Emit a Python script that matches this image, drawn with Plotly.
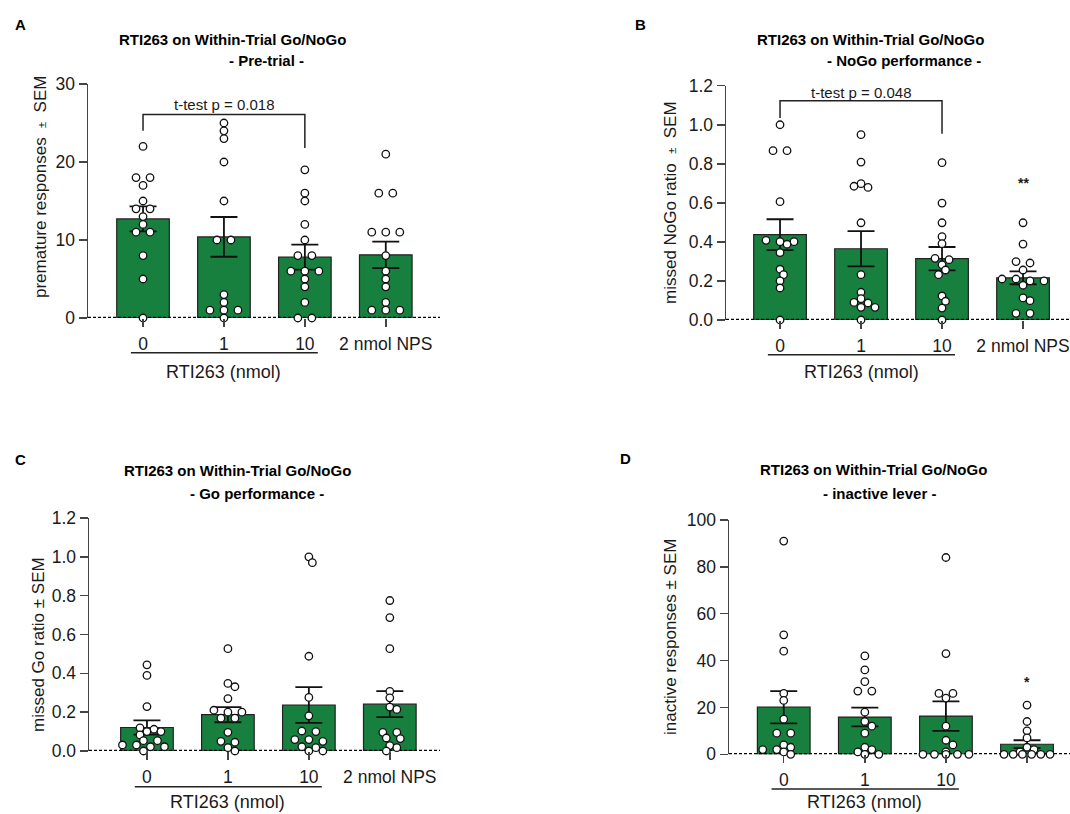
import math
import plotly.graph_objects as go

W, H = 1070, 814
FONT = "Liberation Sans, Arial, sans-serif"
GREEN = "#17803f"
INK = "#1a1a1a"

categories = ["0", "1", "10", "2 nmol NPS"]

# ---- Panel A: premature responses (pre-trial) ----
a_0 = [22, 18, 18, 17, 15, 14, 14, 13, 12, 11, 11, 8, 5, 0]
a_1 = [25, 24, 23, 20, 15, 10, 10, 3, 2, 1, 1, 1, 0]
a_10 = [19, 16, 15, 12, 10, 8, 8, 6, 6, 6, 5, 4, 2, 0, 0]
a_nps = [21, 16, 16, 11, 11, 11, 8, 6, 5, 4, 2, 1, 1, 1]
a_mean = [12.7, 10.4, 7.8, 8.1]
a_sem = [1.6, 2.55, 1.6, 1.7]

# ---- Panel B: missed NoGo ratio ----
b_0 = [1.0, 0.867, 0.867, 0.606, 0.408, 0.401, 0.401, 0.388, 0.345, 0.26, 0.232, 0.2, 0.164, 0.0]
b_1 = [0.949, 0.809, 0.698, 0.685, 0.679, 0.498, 0.232, 0.142, 0.109, 0.09, 0.087, 0.065, 0.065, 0.0]
b_10 = [0.806, 0.599, 0.498, 0.427, 0.391, 0.316, 0.309, 0.283, 0.256, 0.232, 0.123, 0.096, 0.061, 0.0]
b_nps = [0.498, 0.389, 0.299, 0.292, 0.256, 0.21, 0.21, 0.2, 0.2, 0.178, 0.113, 0.099, 0.034, 0.034]
b_mean = [0.437, 0.365, 0.314, 0.216]
b_sem = [0.079, 0.09, 0.06, 0.033]

# ---- Panel C: missed Go ratio ----
c_0 = [0.444, 0.389, 0.229, 0.119, 0.112, 0.1, 0.1, 0.083, 0.053, 0.053, 0.031, 0.031, 0.022, 0.022, 0.0]
c_1 = [0.527, 0.348, 0.331, 0.27, 0.21, 0.2, 0.2, 0.169, 0.169, 0.096, 0.05, 0.045, 0.017, 0.0]
c_10 = [1.0, 0.97, 0.488, 0.276, 0.181, 0.103, 0.1, 0.059, 0.059, 0.05, 0.022, 0.017, 0.0, 0.0]
c_nps = [0.775, 0.687, 0.527, 0.307, 0.274, 0.226, 0.214, 0.096, 0.096, 0.067, 0.064, 0.028, 0.017, 0.0]
c_mean = [0.121, 0.187, 0.237, 0.241]
c_sem = [0.037, 0.039, 0.092, 0.067]

# ---- Panel D: inactive lever responses ----
d_0 = [91, 51, 44, 26, 23, 15, 9, 9, 4, 3, 2, 2, 1, 0]
d_1 = [42, 36, 31, 27, 27, 18, 14, 12, 9, 3, 2, 1, 0, 0]
d_10 = [84, 43, 26, 26, 24, 12, 6, 4, 1, 0, 0, 0, 0, 0]
d_nps = [21, 14, 10, 7, 3, 2, 1, 0, 0, 0, 0, 0, 0]
d_mean = [20.1, 15.9, 16.3, 4.3]
d_sem = [6.9, 4.0, 6.3, 1.7]

panels = [
    dict(key="A", groups=[a_0, a_1, a_10, a_nps], mean=a_mean, sem=a_sem,
         box=(88, 440, 84, 318), xr=[-0.68, 3.67], yr=[0, 30], tick=10, fmt="d",
         ytitle="premature responses  <span style='font-size:11px'>±</span>  SEM",
         ytpos=(40, 187), letter=(20, 25),
         t1=(232.5, 39), t2=(266, 60), sub="- Pre-trial -",
         under_y=352.7, rti_y=372),
    dict(key="B", groups=[b_0, b_1, b_10, b_nps], mean=b_mean, sem=b_sem,
         box=(726, 1070, 85.7, 320), xr=[-0.667, 3.58], yr=[0, 1.2], tick=0.2, fmt=".1f",
         ytitle="missed NoGo ratio  <span style='font-size:11px'>±</span>  SEM",
         ytpos=(670, 203), letter=(640, 25),
         t1=(870.5, 39), t2=(904, 60), sub="- NoGo performance -",
         under_y=354.7, rti_y=371.7),
    dict(key="C", groups=[c_0, c_1, c_10, c_nps], mean=c_mean, sem=c_sem,
         box=(89, 440, 518, 751), xr=[-0.716, 3.62], yr=[0, 1.2], tick=0.2, fmt=".1f",
         ytitle="missed Go ratio ± SEM",
         ytpos=(38, 645), letter=(20, 459),
         t1=(237.5, 470.5), t2=(256.5, 493), sub="- Go performance -",
         under_y=786.7, rti_y=802),
    dict(key="D", groups=[d_0, d_1, d_10, d_nps], mean=d_mean, sem=d_sem,
         box=(729, 1070, 520, 754.3), xr=[-0.675, 3.53], yr=[0, 100], tick=20, fmt="d",
         ytitle="inactive responses ± SEM",
         ytpos=(670, 637), letter=(625, 458),
         t1=(873.5, 470), t2=(879, 493), sub="- inactive lever -",
         under_y=789, rti_y=802),
]

TITLE = "RTI263 on Within-Trial Go/NoGo"


def px(x):
    return x / W


def py(y):
    return 1 - y / H


def swarm(vals, ppu, ppc, s=14.0, t=2.0, dmin=6.0, wmax=46.0):
    """Deterministic beeswarm offsets (in category units)."""
    n = len(vals)
    order = sorted(range(n), key=lambda i: -vals[i])
    xs = [0.0] * n
    placed = []
    i = 0
    while i < n:
        y0 = vals[order[i]] * ppu
        j = i + 1
        while j < n and y0 - vals[order[j]] * ppu <= t:
            j += 1
        grp = order[i:j]
        k = len(grp)
        sp = s if k == 1 else min(s, wmax / (k - 1))
        base = [(m - (k - 1) / 2) * sp for m in range(k)]
        chosen = base
        shifts = [0]
        for m in range(1, 9):
            shifts += [m * s / 4, -m * s / 4]
        for sh in shifts:
            cand = [b + sh for b in base]
            ok = True
            for idx, cx in zip(grp, cand):
                cy = vals[idx] * ppu
                for (qx, qy) in placed:
                    if math.hypot(cx - qx, cy - qy) < dmin:
                        ok = False
                        break
                if not ok:
                    break
            if ok:
                chosen = cand
                break
        for idx, cx in zip(grp, chosen):
            xs[idx] = cx / ppc
            placed.append((cx, vals[idx] * ppu))
        i = j
    return xs


fig = go.Figure()
annotations = []
shapes = []
layout_axes = {}

for n, p in enumerate(panels, start=1):
    xa = "x" if n == 1 else f"x{n}"
    ya = "y" if n == 1 else f"y{n}"
    x0, x1, y0, y1 = p["box"]
    ppc = (x1 - x0) / (p["xr"][1] - p["xr"][0])
    ppu = (y1 - y0) / (p["yr"][1] - p["yr"][0])
    idx = list(range(len(categories)))

    fig.add_trace(go.Bar(
        x=idx, y=p["mean"], width=0.65, xaxis=xa, yaxis=ya,
        marker=dict(color=GREEN, line=dict(color="#222222", width=1.2)),
        error_y=dict(type="data", array=p["sem"], visible=True,
                     color="#111111", thickness=1.8, width=13.5),
        showlegend=False, hoverinfo="skip",
    ))
    # dotted baseline at zero across the axis
    fig.add_trace(go.Scatter(
        x=p["xr"], y=[0, 0], mode="lines", xaxis=xa, yaxis=ya,
        line=dict(color="#000000", width=2.4, dash="3px,2px"),
        showlegend=False, hoverinfo="skip", cliponaxis=False,
    ))
    for gi, vals in enumerate(p["groups"]):
        offs = swarm(vals, ppu, ppc)
        fig.add_trace(go.Scatter(
            x=[gi + o for o in offs], y=vals, mode="markers", xaxis=xa, yaxis=ya,
            marker=dict(symbol="circle", size=7.5, color="white",
                        line=dict(color="#111111", width=1.3)),
            showlegend=False, hoverinfo="skip", cliponaxis=False,
        ))

    ntick = int(round((p["yr"][1] - p["yr"][0]) / p["tick"]))
    tv = [p["yr"][0] + k * p["tick"] for k in range(ntick + 1)]
    tt = [format(v, ".1f") if p["fmt"] == ".1f" else str(int(round(v))) for v in tv]

    layout_axes["xaxis" if n == 1 else f"xaxis{n}"] = dict(
        domain=[px(x0), px(x1)], range=p["xr"], anchor=ya, automargin=False,
        showline=False, showgrid=False, zeroline=False,
        ticks="outside", ticklen=8, tickwidth=1.5, tickcolor="#444444",
        tickvals=idx, ticktext=categories, ticklabelstandoff=2,
        tickfont=dict(family=FONT, size=17.5, color=INK), fixedrange=True,
    )
    layout_axes["yaxis" if n == 1 else f"yaxis{n}"] = dict(
        domain=[py(y1), py(y0)], range=p["yr"], anchor=xa, automargin=False,
        showline=True, linecolor="#444444", linewidth=1.5,
        showgrid=False, zeroline=False,
        ticks="outside", ticklen=8, tickwidth=1.5, tickcolor="#444444",
        tickvals=tv, ticktext=tt,
        tickfont=dict(family=FONT, size=17.5, color=INK), fixedrange=True,
    )

    # panel letter
    annotations.append(dict(text=f"<b>{p['key']}</b>", x=px(p["letter"][0]), y=py(p["letter"][1]),
                            xref="paper", yref="paper", showarrow=False,
                            xanchor="center", yanchor="middle",
                            font=dict(family=FONT, size=15, color="#000")))
    # title lines
    annotations.append(dict(text=f"<b>{TITLE}</b>", x=px(p["t1"][0]), y=py(p["t1"][1]),
                            xref="paper", yref="paper", showarrow=False,
                            xanchor="center", yanchor="middle",
                            font=dict(family=FONT, size=15, color="#000")))
    annotations.append(dict(text=f"<b>{p['sub']}</b>", x=px(p["t2"][0]), y=py(p["t2"][1]),
                            xref="paper", yref="paper", showarrow=False,
                            xanchor="center", yanchor="middle",
                            font=dict(family=FONT, size=15, color="#000")))
    # y axis title
    annotations.append(dict(text=p["ytitle"], x=px(p["ytpos"][0]), y=py(p["ytpos"][1]),
                            xref="paper", yref="paper", showarrow=False, textangle=-90,
                            xanchor="center", yanchor="middle",
                            font=dict(family=FONT, size=17, color=INK)))
    # group underline + label
    shapes.append(dict(type="line", xref=xa, yref="paper", x0=-0.15, x1=2.16,
                       y0=py(p["under_y"]), y1=py(p["under_y"]),
                       line=dict(color="#222222", width=1.5)))
    annotations.append(dict(text="RTI263 (nmol)", x=1, y=py(p["rti_y"]),
                            xref=xa, yref="paper", showarrow=False,
                            xanchor="center", yanchor="middle",
                            font=dict(family=FONT, size=18, color=INK)))

# t-test brackets (panels A and B)
brackets = [("x", "y", 26.1, 24.0, 21.8, 27.4, "t-test p = 0.018"),
            ("x2", "y2", 1.123, 1.034, 0.954, 1.166, "t-test p = 0.048")]
for xa, ya, top, lb, rb, ty, label in brackets:
    shapes.append(dict(type="path", xref=xa, yref=ya,
                       path=f"M 0,{lb} L 0,{top} L 2,{top} L 2,{rb}",
                       line=dict(color="#222222", width=1.5)))
    annotations.append(dict(text=label, x=1, y=ty, xref=xa, yref=ya, showarrow=False,
                            xanchor="center", yanchor="middle",
                            font=dict(family=FONT, size=15, color=INK)))

# significance marks
annotations.append(dict(text="<b>**</b>", x=3, y=0.70, xref="x2", yref="y2", showarrow=False,
                        xanchor="center", yanchor="middle", font=dict(family=FONT, size=14, color=INK)))
annotations.append(dict(text="<b>*</b>", x=3, y=30.9, xref="x4", yref="y4", showarrow=False,
                        xanchor="center", yanchor="middle", font=dict(family=FONT, size=14, color=INK)))

fig.update_layout(
    width=W, height=H, autosize=False,
    margin=dict(l=0, r=0, t=0, b=0, pad=0, autoexpand=False),
    paper_bgcolor="white", plot_bgcolor="white",
    bargap=0, showlegend=False,
    annotations=annotations, shapes=shapes,
    font=dict(family=FONT, color=INK),
    **layout_axes,
)

fig.write_html(
    "out.html",
    config={"displayModeBar": False, "staticPlot": True},
    post_script="document.body.style.margin='0px';document.documentElement.style.overflow='hidden';",
)
